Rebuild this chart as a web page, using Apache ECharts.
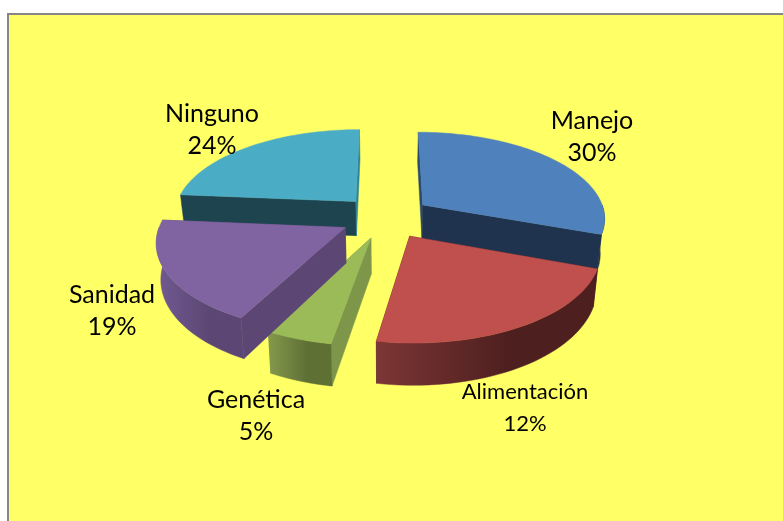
<!DOCTYPE html>
<html>
<head>
<meta charset="utf-8">
<style>html,body{margin:0;padding:0;background:#fff}#c{width:783px;height:521px}</style>
<script src="https://cdn.jsdelivr.net/npm/echarts@6/dist/echarts.min.js"></script>
</head>
<body>
<div id="c"></div>
<script>
const categories = ['Manejo', 'Alimentación', 'Genética', 'Sanidad', 'Ninguno'];
const values = [31, 22.5, 5, 19, 24];
const labelTexts = ['30%', '12%', '5%', '19%', '24%'];
const topColors = ['#4f81bd', '#c0504d', '#9bbb59', '#8064a2', '#4bacc6'];
const startFaceColors = ['#2b4a73', '#4e1f1f', '#7e9649', '#5c4774', '#1e4450'];
const endFaceColors = ['#1f334f', '#4e1f1f', '#7e9649', '#5c4774', '#2f8299'];
const wallLeftColors = ['#1f334f', '#7c3635', '#84994c', '#705a92', '#1e4450'];
const wallMidColors = ['#1f334f', '#4e1f1f', '#5f7035', '#5c4774', '#1e4450'];
const drawOrder = [1, 3, 2, 4, 0];
const labelX = [592, 525, 256, 112, 212];
const labelY = [137, 408, 416, 311, 130];
const labelSize = [25, 22, 25, 25, 25];

const P = {cx: 386, cy: 217, R: 183, Rq: 86, k: 0.14, e: 0.25, h: 35, rot: 0, taper: 0.98};
const rad = d => d * Math.PI / 180;
function project(X, Y, drop) {
  const s = 1 / (1 - P.k * Y);
  return [P.cx + P.R * X * s * (drop ? P.taper : 1), P.cy + P.Rq * Y * s + (drop ? P.h * s : 0)];
}
const total = values.reduce((a, b) => a + b, 0);

function renderItem(params, api) {
  const i = params.dataIndex;
  let before = 0;
  for (let j = 0; j < i; j++) before += values[j];
  const a0 = before / total * 360 + P.rot;
  const a1 = (before + api.value(0)) / total * 360 + P.rot;
  const mid = rad((a0 + a1) / 2);
  const ax = P.e * Math.sin(mid), ay = -P.e * Math.cos(mid);
  const rim = a => [ax + Math.sin(rad(a)), ay - Math.cos(rad(a))];
  const z = drawOrder[i] * 10;
  const kids = [];
  const poly = (pts, fill, zz) => kids.push({type: 'polygon', z2: zz, silent: true,
    shape: {points: pts}, style: {fill: fill, stroke: fill, lineWidth: 0.5}});

  const apexT = project(ax, ay, false), apexB = project(ax, ay, true);
  const r0 = rim(a0), r1 = rim(a1);
  poly([apexT, project(r0[0], r0[1], false), project(r0[0], r0[1], true), apexB], startFaceColors[i], z + 1);
  poly([apexT, project(r1[0], r1[1], false), project(r1[0], r1[1], true), apexB], endFaceColors[i], z + 2);

  // outer wall on the part of the rim that faces the viewer
  const w0 = Math.max(a0, 90), w1 = Math.min(a1, 270);
  if (w1 > w0) {
    const top = [], bot = [];
    for (let a = w0; a <= w1 + 1e-6; a += (w1 - w0) / 40) {
      const r = rim(a);
      top.push(project(r[0], r[1], false));
      bot.unshift(project(r[0], r[1], true));
    }
    poly(top.concat(bot), {
      type: 'linear', x: 0, y: 0, x2: 1, y2: 0,
      colorStops: [
        {offset: 0, color: wallLeftColors[i]},
        {offset: 0.6, color: wallMidColors[i]},
        {offset: 1, color: wallMidColors[i]}
      ]
    }, z + 3);
  }

  const topPts = [apexT];
  const steps = Math.ceil((a1 - a0) / 1.5);
  for (let n = 0; n <= steps; n++) {
    const r = rim(a0 + (a1 - a0) * n / steps);
    topPts.push(project(r[0], r[1], false));
  }
  poly(topPts, topColors[i], z + 4);

  kids.push({type: 'text', z2: 200, silent: true, x: labelX[i], y: labelY[i], style: {
    text: api.value(1) + '\n' + labelTexts[i],
    x: 0, y: 0, align: 'center', verticalAlign: 'middle',
    fontFamily: 'Lato, "Open Sans", sans-serif', fontSize: labelSize[i],
    lineHeight: 32, fill: '#000'
  }});
  return {type: 'group', children: kids};
}

const chart = echarts.init(document.getElementById('c'), null, {renderer: 'canvas'});
chart.setOption({
  animation: false,
  backgroundColor: '#ffffff',
  graphic: [{
    type: 'rect', z: -10, silent: true,
    shape: {x: 8, y: 14, width: 790, height: 520},
    style: {fill: '#ffff66', stroke: '#868686', lineWidth: 2}
  }],
  series: [{
    type: 'custom',
    coordinateSystem: 'none',
    clip: false,
    renderItem: renderItem,
    encode: {value: 0},
    data: categories.map((n, i) => [values[i], n])
  }]
});
</script>
</body>
</html>
